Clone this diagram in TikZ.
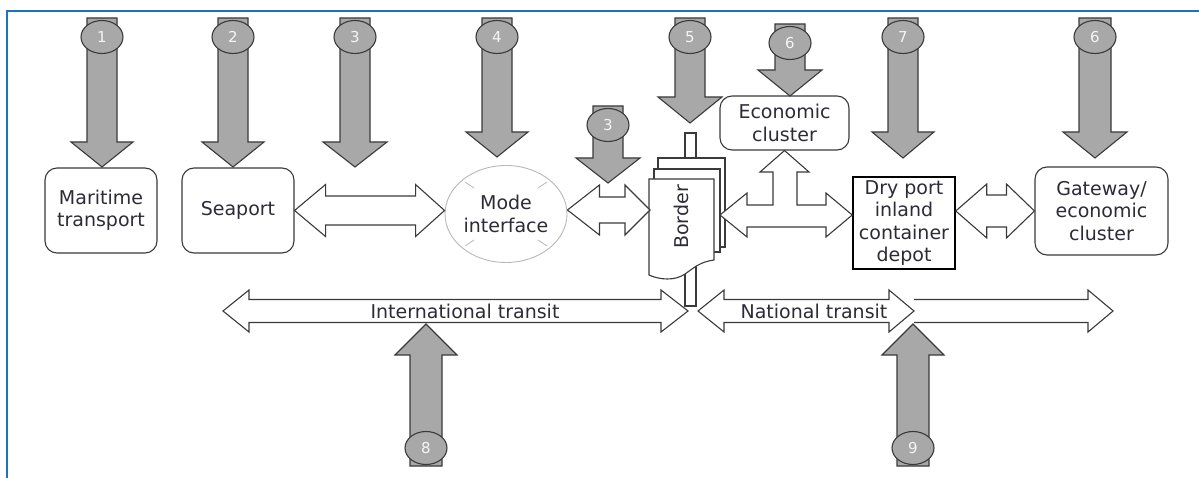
\documentclass[tikz,border=0pt]{standalone}
\usepackage{fontspec}
\setmainfont{DejaVu Sans}
\usetikzlibrary{shapes.geometric,calc}

\definecolor{frameblue}{HTML}{1F72C0}
\definecolor{arrgray}{HTML}{A8A8A8}
\definecolor{edgegray}{HTML}{3A3A3A}
\definecolor{txt}{HTML}{2C2C36}
\definecolor{ringgray}{HTML}{B8B8B8}

\newcommand\boxfont{\fontsize{19}{22.5}\selectfont}

\tikzset{
  blockarr/.style={fill=arrgray, draw=edgegray, line width=1.1pt, line join=miter},
  openarr/.style={fill=white, draw=edgegray, line width=1.1pt, line join=miter},
  numdisc/.style={ellipse, fill=arrgray, draw=edgegray, line width=1.1pt,
    minimum width=42pt, minimum height=33pt, inner sep=0pt,
    text=white!92!gray, font=\fontsize{15}{15}\selectfont},
  roundbox/.style={draw=edgegray, line width=1.1pt, rounded corners=12pt, fill=white,
    text=txt, font=\boxfont, align=center, inner sep=0pt},
  plainbox/.style={draw=black, line width=1.5pt, fill=white,
    text=txt, font=\boxfont, align=center, inner sep=0pt},
  label/.style={text=txt, font=\boxfont, inner sep=0pt},
  tick/.style={draw=ringgray, line width=0.8pt},
}

% vertical block arrow: x, tail y, head base y, tip y, shaft half width, head half width
\newcommand\vblock[6]{%
  \draw[blockarr] (#1-#5,#2) -- (#1+#5,#2) -- (#1+#5,#3) -- (#1+#6,#3) -- (#1,#4)
    -- (#1-#6,#3) -- (#1-#5,#3) -- cycle;}

% horizontal two-headed open arrow between two points (y taken from the first)
% #3 shaft half height, #4 head half height, #5 left head length, #6 right head length
\newcommand\hdouble[6]{%
  \draw[openarr] let \p1=#1, \p2=#2 in
    (\x1,\y1) -- (\x1+#5,\y1+#4) -- (\x1+#5,\y1+#3) -- (\x2-#6,\y1+#3) -- (\x2-#6,\y1+#4)
    -- (\x2,\y1) -- (\x2-#6,\y1-#4) -- (\x2-#6,\y1-#3) -- (\x1+#5,\y1-#3)
    -- (\x1+#5,\y1-#4) -- cycle;}

\begin{document}
\begin{tikzpicture}[x=1pt,y=-1pt]
\useasboundingbox (0,0) rectangle (1199,478);

% frame
\draw[frameblue, line width=2pt] (7,478) -- (7,11) -- (1199,11);

% ---- boxes ----
\node[roundbox, minimum width=112pt, minimum height=85pt] (mar) at (101,210.5) {Maritime\\transport};
\node[roundbox, minimum width=112pt, minimum height=85pt] (sea) at (238,210.5) {Seaport};
\node[ellipse, draw=ringgray, line width=0.9pt, fill=white, minimum width=122pt, minimum height=97pt,
      inner sep=0pt, text=txt, font=\boxfont, align=center] (mode) at (506,214) {Mode\\interface};
\draw[tick] (465,182) -- (474,188);
\draw[tick] (547,182) -- (538,188);
\draw[tick] (465,246) -- (474,240);
\draw[tick] (547,246) -- (538,240);
\node[roundbox, minimum width=129pt, minimum height=54pt] (eco) at (784.5,123) {Economic\\cluster};
\node[plainbox, minimum width=102pt, minimum height=92pt] (dry) at (904,223) {Dry port\\inland\\container\\depot};
\node[roundbox, minimum width=133pt, minimum height=88pt] (gate) at (1101.5,211) {Gateway/\\economic\\cluster};

% ---- border post ----
\draw[openarr] (685,133) rectangle (696,306);
\draw[openarr] (658,158) rectangle (725,247);
\draw[openarr] (654,169) rectangle (720,252);
\draw[openarr] (649,179) -- (714,179) -- (714,260)
   .. controls (700,262) and (695,267) .. (685,274)
   .. controls (675,281) and (660,280) .. (649,275) -- cycle;
\node[label, rotate=90] (bord) at (681,217) {Border};
\coordinate (bordW) at (650,210);
\coordinate (bordE) at (720,215);

% ---- horizontal connectors ----
\hdouble{(sea.east)}{(mode.west)}{14.5pt}{26pt}{31pt}{29pt}
\hdouble{(mode.east |- bordW)}{(bordW)}{13pt}{25pt}{32pt}{25pt}
\hdouble{(dry.east |- gate.west)}{(gate.west)}{16pt}{27pt}{31pt}{28pt}

% border to economic cluster and dry port
\draw[openarr] (bordE) -- (747,193) -- (747,205) -- (773,205) -- (773,172) -- (760,172)
  -- (eco.south) -- (809,172) -- (797,172) -- (797,205) -- (826,205) -- (826,193)
  -- (dry.west |- bordE) -- (826,237) -- (826,227) -- (747,227) -- (747,237) -- cycle;

% transit corridors
\coordinate (itL) at (223,311);
\coordinate (itR) at (688,311);
\coordinate (ntL) at (698,311);
\coordinate (ntR) at (914,311);
\coordinate (ntEnd) at (1113,311);
\draw[openarr] (ntR) ++(0,-11.5) -- (1088,299.5) -- (1088,290) -- (ntEnd) -- (1088,332)
  -- (1088,322.5) -- (914,322.5);
\hdouble{(itL)}{(itR)}{11.5pt}{21pt}{26pt}{27pt}
\hdouble{(ntL)}{(ntR)}{11.5pt}{21pt}{26pt}{25pt}
\node[label] (itlab) at (465,311) {International transit};
\node[label] (ntlab) at (814,311) {National transit};

% ---- numbered intervention arrows ----
\vblock{102}{18}{142}{167}{15}{31}
\vblock{233}{18}{142}{167}{15}{31}
\vblock{355}{18}{142}{167}{15}{32}
\vblock{497}{18}{132}{157}{15}{31}
\vblock{608}{106}{158}{183}{15}{32}
\vblock{690}{18}{97}{123}{15}{32}
\vblock{790}{24}{70}{96}{15}{32}
\vblock{903}{18}{132}{158}{15}{31}
\vblock{1095}{18}{132}{158}{16}{32}
\vblock{426}{466}{355}{324}{16}{31}
\vblock{913}{466}{355}{324}{16}{31}

\node[numdisc] (c1) at (102,37) {1};
\node[numdisc] (c2) at (233,37) {2};
\node[numdisc] (c3) at (355,37) {3};
\node[numdisc] (c4) at (497,37) {4};
\node[numdisc] (c3b) at (608,125) {3};
\node[numdisc] (c5) at (690,37) {5};
\node[numdisc] (c6) at (790,43) {6};
\node[numdisc] (c7) at (903,37) {7};
\node[numdisc] (c6b) at (1095,37) {6};
\node[numdisc] (c8) at (426,448) {8};
\node[numdisc] (c9) at (913,448) {9};
\end{tikzpicture}
\end{document}
